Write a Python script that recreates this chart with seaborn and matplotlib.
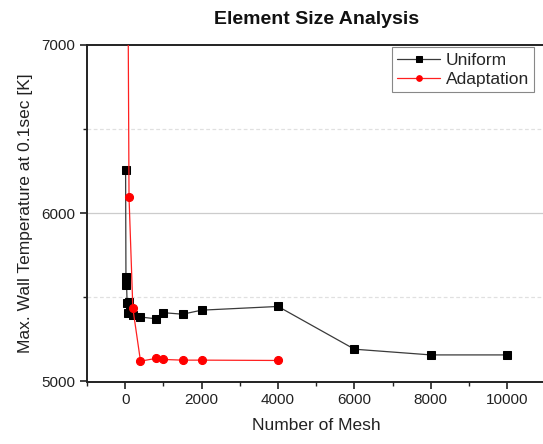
import numpy as np
import pandas as pd
import matplotlib
matplotlib.use("Agg")
import matplotlib.pyplot as plt
import seaborn as sns
from matplotlib.ticker import MultipleLocator

# Data
uniform_mesh = [10, 20, 30, 50, 75, 100, 125, 200, 400, 800, 1000, 1500, 2000, 4000, 6000, 8000, 10000]
uniform_temp = [6260, 5575, 5620, 5465, 5410, 5475, 5428, 5393, 5383, 5373, 5409, 5400, 5424, 5446, 5192, 5158, 5158]

adapt_mesh = [50, 100, 200, 400, 800, 1000, 1500, 2000, 4000]
adapt_temp = [8400, 6095, 5435, 5121, 5137, 5131, 5127, 5127, 5125]

x_ticks = [0, 2000, 4000, 6000, 8000, 10000]
y_ticks = [5000, 6000, 7000]

sns.set_style("ticks")
plt.rcParams['font.family'] = ['Liberation Sans', 'DejaVu Sans']

W, H = 543, 444
fig = plt.figure(figsize=(W / 100, H / 100), dpi=100)
ax = fig.add_axes([87 / W, (H - 381.5) / H, 458.5 / W, 336.5 / H])

# reference grid lines
ax.axhline(6000, color='#cccccc', lw=0.9, zorder=0)
for yv in (5500, 6500):
    ax.axhline(yv, color='#e0e0e0', lw=0.9, ls=(0, (3, 2)), zorder=0)

sns.lineplot(x=uniform_mesh, y=uniform_temp, ax=ax, sort=False, color='#3a3a3a',
             lw=0.9, marker='s', markersize=5.6, markerfacecolor='black',
             markeredgecolor='black', label='Uniform', zorder=3)
sns.lineplot(x=adapt_mesh, y=adapt_temp, ax=ax, sort=False, color='#ff2020',
             lw=0.9, marker='o', markersize=5.8, markerfacecolor='#ff0000',
             markeredgecolor='#ff0000', label='Adaptation', zorder=3)

ax.set_xlim(-1000, 11000)
ax.set_ylim(5000, 7000)
ax.set_xticks(x_ticks)
ax.set_yticks(y_ticks)
ax.xaxis.set_minor_locator(MultipleLocator(1000))
ax.yaxis.set_minor_locator(MultipleLocator(500))
ax.tick_params(axis='both', which='major', direction='out', length=5, width=1.2,
               labelsize=11, color='#222222', labelcolor='#222222')
ax.tick_params(axis='both', which='minor', direction='out', length=3, width=1.0, color='#222222')

for side in ('left', 'bottom', 'top', 'right'):
    ax.spines[side].set_visible(True)
    ax.spines[side].set_linewidth(1.4)
    ax.spines[side].set_color('#222222')

ax.set_title('Element Size Analysis', fontsize=14, fontweight='bold', pad=15, color='#111111')
ax.set_xlabel('Number of Mesh', fontsize=12.5, color='#222222', labelpad=8)
ax.set_ylabel('Max. Wall Temperature at 0.1sec [K]', fontsize=12.5, color='#222222', labelpad=6)

leg = ax.legend(loc='upper right', bbox_to_anchor=(0.975, 0.993), fontsize=12.5,
                frameon=True, fancybox=False, edgecolor='#888888', framealpha=1,
                borderpad=0.3, handlelength=2.5, handletextpad=0.3, labelspacing=0.25,
                borderaxespad=0.0, markerscale=0.7)
leg.get_frame().set_linewidth(0.8)

fig.savefig('out.png', dpi=100)
